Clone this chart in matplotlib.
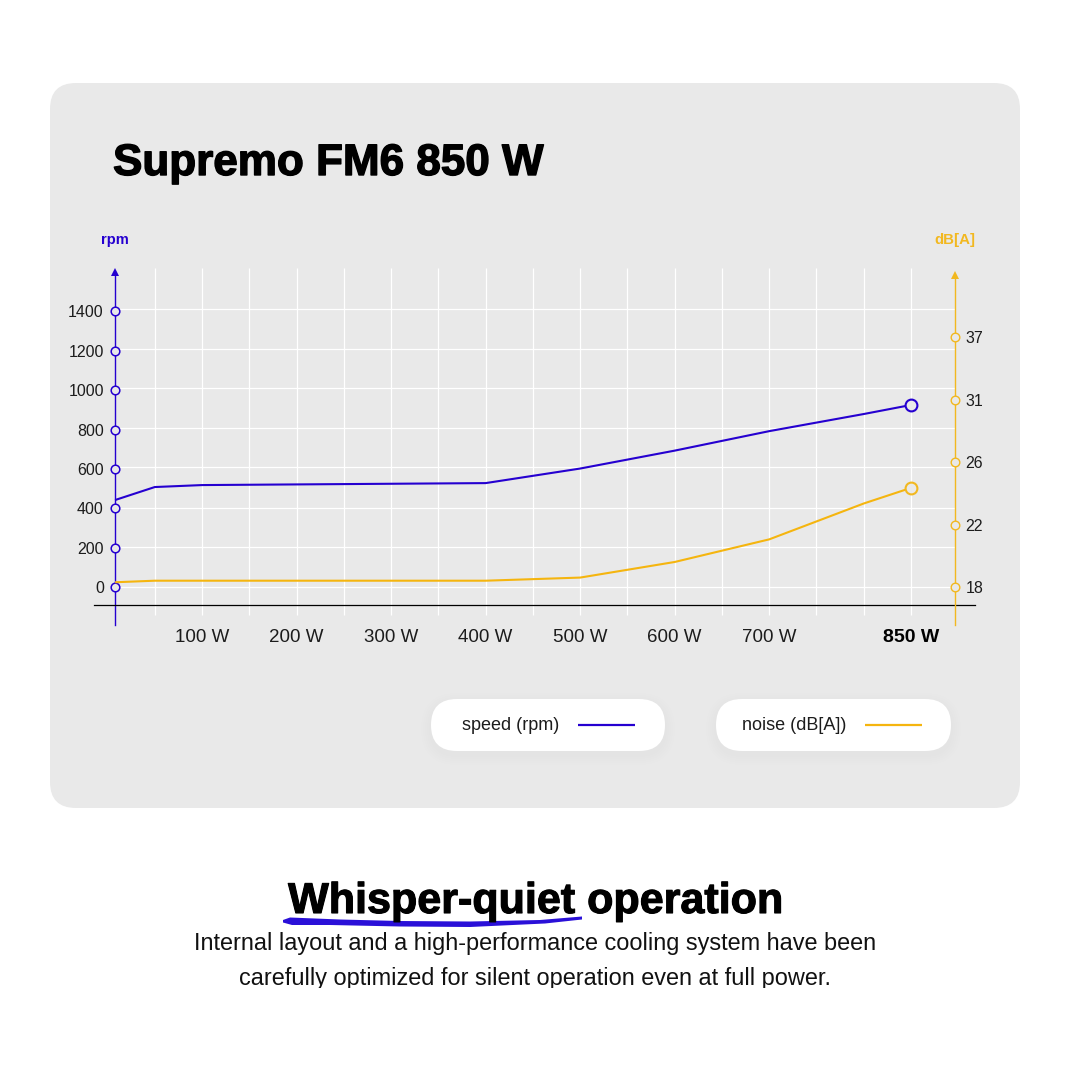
import matplotlib
matplotlib.use('Agg')
import matplotlib.pyplot as plt
import matplotlib.patheffects as pe
import numpy as np
from matplotlib.patches import FancyBboxPatch, Rectangle

plt.rcParams['font.family'] = ['Liberation Sans', 'DejaVu Sans']

# data
watts = [8, 50, 100, 400, 500, 600, 700, 800, 850]
speed_rpm = [442, 508, 518, 528, 602, 693, 792, 879, 925]
noise_db = [18.3, 18.4, 18.4, 18.4, 18.6, 19.6, 21.05, 23.35, 24.35]

rpm_ticks = [0, 200, 400, 600, 800, 1000, 1200, 1400]
noise_ticks = [18, 22, 26, 31, 37]
watt_ticks = [100, 200, 300, 400, 500, 600, 700, 850]
watt_labels = ['100 W', '200 W', '300 W', '400 W', '500 W', '600 W', '700 W', '850 W']
grid_watts = [50, 100, 150, 200, 250, 300, 350, 400, 450, 500, 550, 600, 650, 700, 750, 800, 850]
grid_rpm = [0, 202, 402, 608, 806, 1010, 1208, 1412]

BLUE = '#2500d0'
YELLOW = '#f5b50f'
AXIS_YELLOW = '#f2b820'
CARD = '#e9e9e9'
TEXT = '#1c1c1c'

fig = plt.figure(figsize=(10.7, 10.7), dpi=100, facecolor='white')

# whole page in pixels, for the card, pills and headings
bg = fig.add_axes([0, 0, 1, 1])
bg.set_xlim(0, 1070)
bg.set_ylim(1070, 0)
bg.axis('off')


def rounded(x0, y0, x1, y1, r, **kw):
    p = FancyBboxPatch((x0, y0), x1 - x0, y1 - y0,
                       boxstyle=f'round,pad=0,rounding_size={r}', linewidth=0, **kw)
    bg.add_patch(p)
    return p


rounded(50, 83, 1020, 808, 26, facecolor=CARD)

# legend pills with a soft shadow
for x0, x1, label, col, tx, lx0, lx1 in [(431, 665, 'speed (rpm)', BLUE, 462, 578, 635),
                                         (716, 951, 'noise (dB[A])', YELLOW, 742, 865, 922)]:
    for grow in [10, 8, 6, 4, 2]:
        rounded(x0 - grow, 699 - grow + 4, x1 + grow, 751 + grow + 4, 26 + grow,
                facecolor='black', alpha=0.005)
    rounded(x0, 699, x1, 751, 26, facecolor='white')
    bg.text(tx, 725, label, fontsize=13, color=TEXT, va='center', ha='left')
    bg.plot([lx0, lx1], [725, 725], color=col, lw=1.6, solid_capstyle='butt')

title = bg.text(113, 175, 'Supremo FM6 850 W', fontsize=31.7, fontweight='bold',
                color='black', va='baseline', ha='left')
title.set_path_effects([pe.withStroke(linewidth=1.0, foreground='black')])

bg.text(115, 240, 'rpm', fontsize=10.5, fontweight='bold', color=BLUE, ha='center', va='center')
bg.text(955, 240, 'dB[A]', fontsize=10.8, fontweight='bold', color=AXIS_YELLOW, ha='center', va='center')

# brush stroke under the heading
brush_x = [283, 290, 340, 400, 470, 540, 582, 582, 545, 470, 400, 330, 292, 283]
brush_y = [920, 917.5, 919.5, 921, 921.5, 920, 916.5, 919.5, 923.5, 927, 926.5, 925, 925, 922.5]
bg.fill(brush_x, brush_y, color='#2a10d8', linewidth=0, zorder=2)

head = bg.text(535, 913, 'Whisper-quiet operation', fontsize=31, fontweight='bold',
               color='black', ha='center', va='baseline', zorder=3)
head.set_path_effects([pe.withStroke(linewidth=0.8, foreground='black')])

clip = Rectangle((0, 0), 1070, 988, transform=bg.transData)
bg.text(535, 950, 'Internal layout and a high-performance cooling system have been',
        fontsize=16.9, color='#111111', ha='center', va='baseline')
sub = bg.text(535, 985, 'carefully optimized for silent operation even at full power.',
              fontsize=16.9, color='#111111', ha='center', va='baseline', clip_on=True)
sub.set_clip_path(clip)

# chart axes: left/right 94..975 px, top/bottom 268..625 px
ax = fig.add_axes([94 / 1070, 1 - 625 / 1070, 881 / 1070, 357 / 1070])
ax.patch.set_alpha(0)
ax.set_xlim(-14.3, 917.7)
ax.set_ylim(-193, 1621)
LEFT_X, RIGHT_X = 7.9, 896.5

ax.hlines(grid_rpm, LEFT_X, RIGHT_X, color='white', lw=0.9, zorder=1)
ax.vlines(grid_watts, -142, 1621, color='white', lw=0.9, zorder=1)

for s in ['top', 'right']:
    ax.spines[s].set_visible(False)
ax.spines['left'].set_position(('data', LEFT_X))
ax.spines['left'].set_color(BLUE)
ax.spines['left'].set_linewidth(1.0)
ax.spines['left'].set_bounds(-193, 1600)
ax.spines['bottom'].set_position(('data', -91.5))
ax.spines['bottom'].set_color('black')
ax.spines['bottom'].set_linewidth(0.9)

ax.set_yticks(rpm_ticks)
ax.tick_params(axis='y', length=0, pad=8, labelsize=11.5, labelcolor=TEXT)
ax.set_xticks(watt_ticks)
ax.set_xticklabels(watt_labels)
ax.tick_params(axis='x', length=0, pad=17, labelsize=13.5, labelcolor=TEXT)
ax.get_xticklabels()[-1].set_fontweight('bold')
ax.get_xticklabels()[-1].set_color('black')
ax.get_xticklabels()[-1].set_fontsize(14)

ax.plot(watts, speed_rpm, color=BLUE, lw=1.5, zorder=3, solid_capstyle='butt')
ax.plot(watts[-1], speed_rpm[-1], 'o', ms=8.5, mfc=CARD, mec=BLUE, mew=1.5, zorder=5, clip_on=False)
ax.plot([LEFT_X] * len(rpm_ticks), rpm_ticks, 'o', ms=6.2, mfc=CARD, mec=BLUE, mew=1.1,
        zorder=5, clip_on=False)
ax.plot(LEFT_X, 1600, '^', ms=5.5, color=BLUE, mew=0, zorder=5, clip_on=False)

# noise axis has evenly spaced, non linear ticks
anchor_db = [2, 18, 22, 26, 31, 37, 49, 61]
anchor_pos = [-4, 0, 1, 2, 3, 4, 6, 8]

ax2 = ax.twinx()
ax2.patch.set_alpha(0)
ax2.set_yscale('function', functions=(lambda v: np.interp(v, anchor_db, anchor_pos),
                                      lambda p: np.interp(p, anchor_pos, anchor_db)))
ax2.set_ylim(15.56, 43.67)
for s in ['top', 'left', 'bottom']:
    ax2.spines[s].set_visible(False)
ax2.spines['right'].set_position(('data', RIGHT_X))
ax2.spines['right'].set_color(AXIS_YELLOW)
ax2.spines['right'].set_linewidth(1.0)
ax2.spines['right'].set_bounds(15.56, 43.0)
ax2.set_yticks(noise_ticks)
ax2.set_yticklabels([str(t) for t in noise_ticks])
ax2.minorticks_off()
ax2.tick_params(axis='y', length=0, pad=7.5, labelsize=11.5, labelcolor=TEXT)

ax2.plot(watts, noise_db, color=YELLOW, lw=1.5, zorder=3, solid_capstyle='butt')
ax2.plot(watts[-1], noise_db[-1], 'o', ms=8.5, mfc=CARD, mec=AXIS_YELLOW, mew=1.5, zorder=5, clip_on=False)
ax2.plot([RIGHT_X] * len(noise_ticks), noise_ticks, 'o', ms=6.2, mfc=CARD, mec=AXIS_YELLOW, mew=1.0,
         zorder=5, clip_on=False)
ax2.plot(RIGHT_X, 43.0, '^', ms=5.5, color=AXIS_YELLOW, mew=0, zorder=5, clip_on=False)

fig.savefig('out.png', dpi=100, facecolor='white')
